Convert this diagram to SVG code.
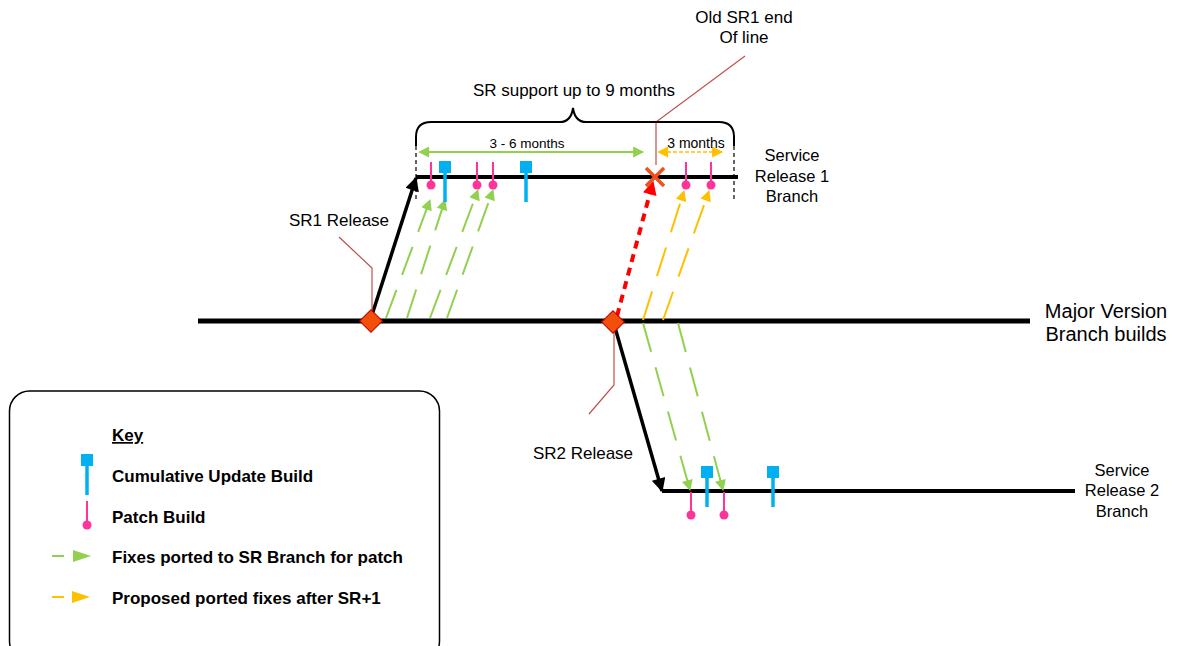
<svg xmlns="http://www.w3.org/2000/svg" width="1181" height="646" viewBox="0 0 1181 646">
<style>
text{font-family:"Liberation Sans",Arial,sans-serif;fill:#000}
.branch{stroke:#000;fill:none}
.green{stroke:#92D050;stroke-width:2;fill:none;stroke-dasharray:30 16}
.yellow{stroke:#FFC000;stroke-width:2;fill:none;stroke-dasharray:30 16}
.pink{stroke:#FF3399;stroke-width:2}
.pinkdot{fill:#FF3399}
.blue{stroke:#00B0F0;stroke-width:3.5}
.bluesq{fill:#00B0F0}
.lead{stroke:#C0504D;stroke-width:1.2;fill:none}
.diamond{fill:#F24E0C;stroke:#C00000;stroke-width:1}
.key{font-size:17px;font-weight:bold}
</style>
<defs>
<marker id="agb" viewBox="0 0 10 10" refX="9" refY="5" markerWidth="12" markerHeight="11" orient="auto" markerUnits="userSpaceOnUse"><path d="M0,0L10,5L0,10z" fill="#92D050"/></marker>
<marker id="ay" viewBox="0 0 10 10" refX="9" refY="5" markerWidth="12" markerHeight="11" orient="auto" markerUnits="userSpaceOnUse"><path d="M0,0L10,5L0,10z" fill="#FFC000"/></marker>
<marker id="ayb" viewBox="0 0 10 10" refX="1" refY="5" markerWidth="12" markerHeight="11" orient="auto-start-reverse" markerUnits="userSpaceOnUse"><path d="M0,0L10,5L0,10z" fill="#FFC000"/></marker>
<marker id="agbs" viewBox="0 0 10 10" refX="1" refY="5" markerWidth="12" markerHeight="11" orient="auto-start-reverse" markerUnits="userSpaceOnUse"><path d="M0,0L10,5L0,10z" fill="#92D050"/></marker>
<marker id="ak" viewBox="0 0 10 10" refX="9" refY="5" markerWidth="16" markerHeight="14" orient="auto" markerUnits="userSpaceOnUse"><path d="M0,0L10,5L0,10z" fill="#000"/></marker>
<marker id="ar" viewBox="0 0 10 10" refX="9" refY="5" markerWidth="16" markerHeight="14" orient="auto" markerUnits="userSpaceOnUse"><path d="M0,0L10,5L0,10z" fill="#FF0000"/></marker>
<g id="cu"><rect x="-6" y="-6" width="12" height="12" class="bluesq"/><line x1="0" y1="0" x2="0" y2="35" class="blue"/></g>
<g id="pb"><line x1="0" y1="0" x2="0" y2="23" class="pink"/><circle cx="0" cy="23" r="4.5" class="pinkdot"/></g>
</defs>

<!-- branches -->
<g id="major-branch"><line x1="198" y1="321" x2="1030" y2="321" class="branch" stroke-width="5"/>
<text x="1106" y="318" font-size="20" text-anchor="middle">Major Version</text>
<text x="1106" y="341" font-size="20" text-anchor="middle">Branch builds</text></g>
<g id="sr1-branch"><line x1="416" y1="177" x2="738" y2="177" class="branch" stroke-width="4"/>
<text x="792" y="161" font-size="16.5" text-anchor="middle">Service</text>
<text x="792" y="182" font-size="16.5" text-anchor="middle">Release 1</text>
<text x="792" y="202" font-size="16.5" text-anchor="middle">Branch</text></g>
<g id="sr2-branch"><line x1="662" y1="491" x2="1075" y2="491" class="branch" stroke-width="4"/>
<text x="1122" y="476" font-size="16.5" text-anchor="middle">Service</text>
<text x="1122" y="496" font-size="16.5" text-anchor="middle">Release 2</text>
<text x="1122" y="517" font-size="16.5" text-anchor="middle">Branch</text></g>

<!-- connectors -->
<g id="connectors">
<line x1="371" y1="318" x2="416" y2="178" stroke="#000" stroke-width="3.5" marker-end="url(#ak)"/>
<line x1="614" y1="324" x2="662" y2="491" stroke="#000" stroke-width="3.5" marker-end="url(#ak)"/>
<line x1="617" y1="316" x2="653" y2="182" stroke="#FF0000" stroke-width="4" stroke-dasharray="8 6" marker-end="url(#ar)"/>
<line x1="386" y1="318" x2="430" y2="200" class="green" marker-end="url(#agb)"/>
<line x1="407" y1="318" x2="445" y2="200" class="green" marker-end="url(#agb)"/>
<line x1="430" y1="318" x2="478" y2="190" class="green" marker-end="url(#agb)"/>
<line x1="447" y1="318" x2="493" y2="190" class="green" marker-end="url(#agb)"/>
<line x1="643" y1="320" x2="684" y2="191" class="yellow" marker-end="url(#ay)"/>
<line x1="663" y1="320" x2="709" y2="191" class="yellow" marker-end="url(#ay)"/>
<line x1="643" y1="323" x2="690" y2="490" class="green" marker-end="url(#agb)"/>
<line x1="678" y1="323" x2="723" y2="490" class="green" marker-end="url(#agb)"/>
<!-- leaders -->
<polyline points="339,237 372,268 372,318" class="lead"/>
<polyline points="589,414 614,385 614,330" class="lead"/>
<polyline points="745,56 656,122 656,165" class="lead" stroke="#E07070"/>
</g>

<!-- builds SR1 -->
<g id="sr1-builds">
<use href="#pb" x="431" y="162"/>
<use href="#cu" x="445" y="167"/>
<use href="#pb" x="477" y="162"/>
<use href="#pb" x="493" y="162"/>
<use href="#cu" x="526" y="167"/>
<use href="#pb" x="686" y="162"/>
<use href="#pb" x="711" y="162"/>
</g>
<!-- builds SR2 -->
<g id="sr2-builds">
<use href="#pb" x="691" y="492"/>
<use href="#cu" x="707" y="472"/>
<use href="#pb" x="724" y="492"/>
<use href="#cu" x="773" y="472"/>
</g>

<!-- diamonds -->
<g id="sr1-release"><rect x="363" y="313" width="16" height="16" class="diamond" transform="rotate(45 371 321)"/>
<text x="339" y="226" font-size="17" text-anchor="middle">SR1 Release</text></g>
<g id="sr2-release"><rect x="605" y="314" width="16" height="16" class="diamond" transform="rotate(45 613 322)"/>
<text x="583" y="459" font-size="17" text-anchor="middle">SR2 Release</text></g>

<!-- end of line X -->
<g id="old-sr1-end">
<path d="M646,168L664,186M664,168L646,186" stroke="#F0501E" stroke-width="3.5"/>
<text x="744" y="23" font-size="17" text-anchor="middle">Old SR1 end</text>
<text x="744" y="43" font-size="17" text-anchor="middle">Of line</text>
</g>

<!-- brace and spans -->
<g id="support-span">
<path d="M416,146 V137 Q416,122 431,122 H560 Q571,122 573,108 Q575,122 586,122 H719 Q734,122 734,137 V146" fill="none" stroke="#000" stroke-width="2"/>
<line x1="416" y1="146" x2="416" y2="200" stroke="#000" stroke-width="1.2" stroke-dasharray="4 3"/>
<line x1="734" y1="146" x2="734" y2="200" stroke="#000" stroke-width="1.2" stroke-dasharray="4 3"/>
<text x="574" y="96" font-size="17" text-anchor="middle">SR support up to 9 months</text>
<line x1="428" y1="152" x2="643" y2="152" stroke="#92D050" stroke-width="2" marker-start="url(#agbs)" marker-end="url(#agb)"/>
<text x="527" y="148" font-size="13.5" text-anchor="middle">3 - 6 months</text>
<line x1="667" y1="152" x2="722" y2="152" stroke="#FFC000" stroke-width="1.5" stroke-dasharray="4 2" marker-start="url(#ayb)" marker-end="url(#ay)"/>
<text x="696" y="148" font-size="14" text-anchor="middle">3 months</text>
</g>

<!-- legend -->
<g id="legend">
<rect x="9.5" y="391" width="430" height="270" rx="20" ry="20" fill="#fff" stroke="#000" stroke-width="1.5"/>
<text x="112" y="441" class="key" text-decoration="underline">Key</text>
<use href="#cu" x="87" y="460"/>
<text x="112" y="482" class="key">Cumulative Update Build</text>
<line x1="87" y1="501" x2="87" y2="524" class="pink"/><circle cx="87" cy="525" r="4.5" class="pinkdot"/>
<text x="112" y="523" class="key">Patch Build</text>
<line x1="52" y1="556" x2="64" y2="556" stroke="#92D050" stroke-width="2"/>
<path d="M73,550L91,556L73,562z" fill="#92D050"/>
<text x="112" y="563" class="key">Fixes ported to SR Branch for patch</text>
<line x1="52" y1="597" x2="64" y2="597" stroke="#FFC000" stroke-width="2"/>
<path d="M72,591L90,597L72,603z" fill="#FFC000"/>
<text x="112" y="604" class="key">Proposed ported fixes after SR+1</text>
</g>
</svg>
